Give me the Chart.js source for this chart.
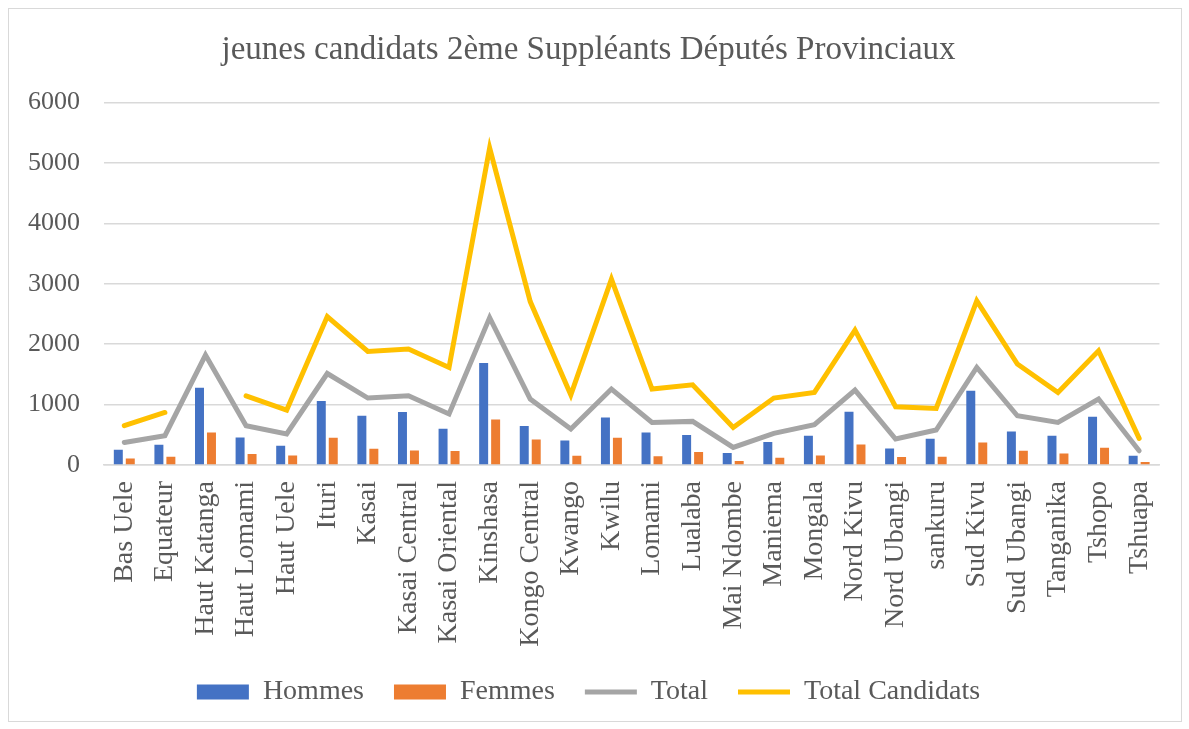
<!DOCTYPE html>
<html>
<head>
<meta charset="utf-8">
<script src="https://cdn.jsdelivr.net/npm/chart.js@4.4.1/dist/chart.umd.min.js"></script>
<style>
  body { margin: 0; background: #fff; }
  .chart-box {
    position: absolute; left: 8px; top: 8px;
    width: 1172px; height: 712px;
    border: 1px solid #d9d9d9;
  }
</style>
</head>
<body>
<div class="chart-box"><canvas id="chart"></canvas></div>
<script>
var categories = ['Bas Uele', 'Equateur', 'Haut Katanga', 'Haut Lomami', 'Haut Uele', 'Ituri', 'Kasai',
    'Kasai Central', 'Kasai Oriental', 'Kinshasa', 'Kongo Central', 'Kwango', 'Kwilu', 'Lomami',
    'Lualaba', 'Mai Ndombe', 'Maniema', 'Mongala', 'Nord Kivu', 'Nord Ubangi', 'sankuru',
    'Sud Kivu', 'Sud Ubangi', 'Tanganika', 'Tshopo', 'Tshuapa'];

var hommes = [253, 336, 1279, 457, 319, 1058, 815, 877, 600, 1687, 645, 407, 788, 540,
    496, 198, 380, 485, 882, 275, 435, 1229, 556, 485, 799, 154];
var femmes = [109, 137, 540, 182, 159, 452, 270, 242, 232, 755, 424, 154, 452, 143,
    215, 66, 121, 159, 341, 132, 137, 374, 237, 192, 286, 50];
var total = [374, 485, 1820, 650, 513, 1515, 1108, 1146, 844, 2440, 1092, 596, 1257, 705,
    722, 291, 523, 667, 1241, 430, 579, 1615, 815, 705, 1092, 236];
// pas de valeur pour Haut Katanga -> trou dans la courbe
var totalCandidats = [650, 870, null, 1146, 910, 2458, 1879, 1919, 1615, 5250, 2706, 1160, 3077, 1257,
    1328, 622, 1108, 1201, 2233, 964, 936, 2718, 1671, 1201, 1891, 440];

var yTicks = [0, 1000, 2000, 3000, 4000, 5000, 6000];

var textColor = '#595959';
var fontName = '"Liberation Serif", "DejaVu Serif", serif';

var chart = new Chart(document.getElementById('chart'), {
    type: 'bar',
    data: {
        labels: categories,
        datasets: [{
            label: 'Hommes',
            data: hommes,
            backgroundColor: '#4472C4',
            pointStyle: 'rect',
            order: 2,
        }, {
            label: 'Femmes',
            data: femmes,
            backgroundColor: '#ED7D31',
            pointStyle: 'rect',
            order: 2,
        }, {
            type: 'line',
            label: 'Total',
            data: total,
            borderColor: '#A5A5A5',
            backgroundColor: '#A5A5A5',
            borderWidth: 5,
            borderCapStyle: 'round',
            pointRadius: 0,
            pointStyle: 'line',
            tension: 0,
            order: 1,
        }, {
            type: 'line',
            label: 'Total Candidats',
            data: totalCandidats,
            borderColor: '#FFC000',
            backgroundColor: '#FFC000',
            borderWidth: 5,
            borderCapStyle: 'round',
            pointRadius: 0,
            pointStyle: 'line',
            spanGaps: false,
            tension: 0,
            order: 0,
        }]
    },
    options: {
        responsive: true,
        maintainAspectRatio: false,
        animation: false,
        layout: { padding: { left: 0, right: 13, top: 0, bottom: 5 } },
        datasets: {
            bar: { categoryPercentage: 0.59, barPercentage: 0.75 }
        },
        scales: {
            x: {
                grid: { display: false },
                border: { color: '#d9d9d9', width: 1.5 },
                ticks: {
                    color: textColor,
                    font: { family: fontName, size: 28 },
                    minRotation: 90, maxRotation: 90,
                    autoSkip: false,
                    padding: 8,
                },
                afterFit: function (axis) { axis.height = 183; },
            },
            y: {
                min: 0, max: 6000,
                afterBuildTicks: function (axis) {
                    axis.ticks = yTicks.map(function (v) { return { value: v }; });
                },
                grid: { color: '#d9d9d9', lineWidth: 1.5, drawTicks: false },
                border: { display: false },
                ticks: {
                    color: textColor,
                    font: { family: fontName, size: 26 },
                    padding: 24,
                    callback: function (v) { return String(v); },
                },
                afterFit: function (axis) { axis.width = 95; },
            }
        },
        plugins: {
            title: {
                display: true,
                text: 'jeunes candidats 2ème Suppléants Députés Provinciaux',
                color: textColor,
                font: { family: fontName, size: 33, weight: 'normal' },
                padding: { top: 22, bottom: 32 },
            },
            legend: {
                position: 'bottom',
                labels: {
                    color: textColor,
                    font: { family: fontName, size: 28 },
                    usePointStyle: true,
                    pointStyleWidth: 52,
                    boxHeight: 15,
                    padding: 30,
                    sort: function (a, b) { return a.datasetIndex - b.datasetIndex; },
                },
            },
            tooltip: { enabled: false },
        },
    },
});
</script>
</body>
</html>
